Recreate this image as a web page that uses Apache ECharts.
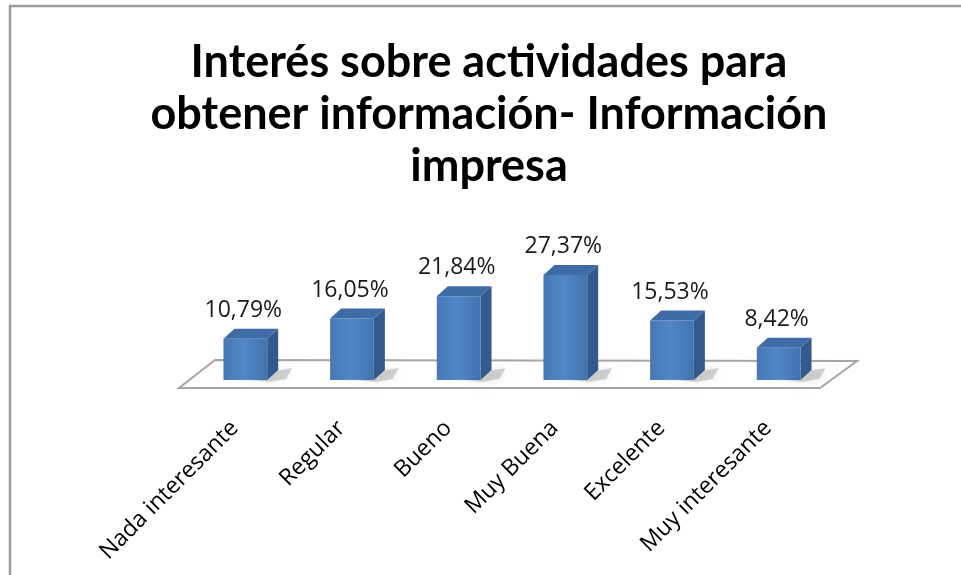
<!DOCTYPE html>
<html>
<head>
<meta charset="utf-8">
<script src="https://cdn.jsdelivr.net/npm/echarts@6/dist/echarts.min.js"></script>
<style>
  html, body { margin: 0; padding: 0; background: #fff; }
  #chart { width: 961px; height: 575px; }
</style>
</head>
<body>
<div id="chart"></div>
<script>
// Survey categories and their share of answers (%)
const categories = ['Nada interesante', 'Regular', 'Bueno', 'Muy Buena', 'Excelente', 'Muy interesante'];
const percentages = [10.79, 16.05, 21.84, 27.37, 15.53, 8.42];
const valueLabels = ['10,79%', '16,05%', '21,84%', '27,37%', '15,53%', '8,42%'];

const chartTitle = 'Interés sobre actividades para\nobtener información- Información\nimpresa';

const chart = echarts.init(document.getElementById('chart'));

// Depth offset used for the pseudo-3D boxes
const DEPTH_X = 11;
const DEPTH_Y = -10;

function renderBox(params, api) {
  const idx = api.value(0);
  const val = api.value(1);
  const base = api.coord([idx, 0]);
  const top = api.coord([idx, val]);
  const band = api.size([1, 0])[0];
  const w = band * 0.41;
  const l = base[0] - w / 2;
  const r = l + w;
  const yb = base[1];
  const yt = top[1];

  const front = {
    type: 'rect',
    shape: { x: l, y: yt, width: w, height: yb - yt },
    style: {
      fill: new echarts.graphic.LinearGradient(0, 0, 1, 0, [
        { offset: 0, color: '#4677b4' },
        { offset: 0.45, color: '#5188c8' },
        { offset: 1, color: '#4273b0' }
      ])
    }
  };
  const side = {
    type: 'polygon',
    shape: { points: [[r, yt], [r + DEPTH_X, yt + DEPTH_Y], [r + DEPTH_X, yb + DEPTH_Y], [r, yb]] },
    style: { fill: '#325a8c' }
  };
  const topFace = {
    type: 'polygon',
    shape: { points: [[l, yt], [l + DEPTH_X, yt + DEPTH_Y], [r + DEPTH_X, yt + DEPTH_Y], [r, yt]] },
    style: { fill: '#3f6ca6' }
  };
  const shadow = {
    type: 'polygon',
    shape: { points: [[l + 8, yb - 2], [r + DEPTH_X + 14, yb + DEPTH_Y - 2], [r + DEPTH_X + 8, yb + DEPTH_Y + 9], [r + 2, yb + 2]] },
    style: { fill: 'rgba(0,0,0,0.16)', shadowBlur: 10, shadowColor: 'rgba(0,0,0,0.45)' }
  };
  const label = {
    type: 'text',
    style: {
      text: valueLabels[params.dataIndex],
      x: base[0] - 2,
      y: yt - 17,
      align: 'center',
      verticalAlign: 'bottom',
      fill: '#1a1a1a',
      fontSize: 23,
      fontFamily: 'Open Sans, Liberation Sans, sans-serif'
    }
  };
  return { type: 'group', children: [shadow, side, front, topFace, label] };
}

chart.setOption({
  backgroundColor: '#ffffff',
  animation: false,
  title: {
    text: chartTitle,
    left: 489,
    top: 36,
    padding: 0,
    textAlign: 'center',
    textStyle: {
      fontFamily: 'Lato, Open Sans, sans-serif',
      fontWeight: 'bold',
      fontSize: 45,
      lineHeight: 52,
      color: '#000'
    }
  },
  graphic: [
    {
      // chart frame
      type: 'rect',
      z: 0,
      shape: { x: 10, y: 6, width: 1000, height: 620 },
      style: { fill: 'none', stroke: '#9a9a9a', lineWidth: 2.5 }
    },
    {
      // floor plane
      type: 'polygon',
      z: 1,
      shape: { points: [[215, 360], [857, 361], [820, 388], [179, 388]] },
      style: { fill: '#ffffff', stroke: '#a6a6a6', lineWidth: 2 }
    }
  ],
  grid: { left: 192, right: 129, top: 265, height: 115 },
  xAxis: {
    type: 'category',
    data: categories,
    axisLine: { show: false },
    axisTick: { show: false },
    axisLabel: {
      rotate: 45,
      margin: 34,
      interval: 0,
      fontSize: 23,
      padding: [0, 15, 0, 0],
      color: '#000',
      fontFamily: 'Open Sans, Liberation Sans, sans-serif'
    }
  },
  yAxis: {
    type: 'value',
    min: 0,
    max: 30,
    show: false,
    splitLine: { show: false }
  },
  series: [{
    type: 'custom',
    z: 3,
    renderItem: renderBox,
    data: percentages.map((v, i) => [i, v])
  }]
});
</script>
</body>
</html>
